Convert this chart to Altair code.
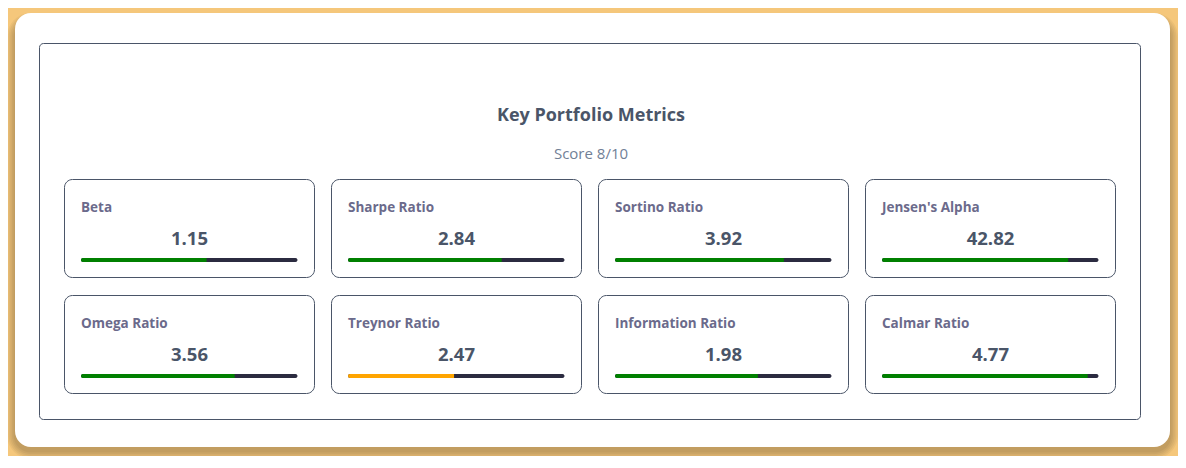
import altair as alt
import pandas as pd

# ---- data ----
metric_names = ["Beta", "Sharpe Ratio", "Sortino Ratio", "Jensen's Alpha",
                "Omega Ratio", "Treynor Ratio", "Information Ratio", "Calmar Ratio"]
metric_values = ["1.15", "2.84", "3.92", "42.82", "3.56", "2.47", "1.98", "4.77"]
bar_percent = [58, 71, 78, 86, 71, 49, 66, 95]
bar_status = ["good", "good", "good", "good", "good", "warn", "good", "good"]
chart_title = "Key Portfolio Metrics"
chart_subtitle = "Score 8/10"

# ---- layout / style ----
W, H = 1170, 448
BG = "#F5C77B"
SLATE = "#4a5568"
LABEL = "#6b6a8b"
SUB = "#718096"
TRACK = "#2b2b40"
FONT = "Open Sans"

CARD_X0, CARD_Y0, CARD_W, CARD_H, PITCH_X, PITCH_Y = 56.5, 171.5, 250, 98, 267, 116

rows = []
for i, (n, v, p, s) in enumerate(zip(metric_names, metric_values, bar_percent, bar_status)):
    c, r = i % 4, i // 4
    x0 = CARD_X0 + c * PITCH_X
    y0 = CARD_Y0 + r * PITCH_Y
    rows.append(dict(name=n, value=v, pct=p, status=s,
                     cx0=x0, cx1=x0 + CARD_W, cy0=y0, cy1=y0 + CARD_H,
                     lx=x0 + 16.5, ly=y0 + 28.5,
                     vx=x0 + CARD_W / 2, vy=y0 + 59.5,
                     bx0=x0 + 16.5, bx1=x0 + 16.5 + 216.5,
                     by0=y0 + 78.5, by1=y0 + 82.5))
cards = pd.DataFrame(rows)

xs = alt.Scale(domain=[0, W], range=[0, W], nice=False, zero=False)
ys = alt.Scale(domain=[0, H], range=[0, H], nice=False, zero=False)


def box(x0, x1, y0, y1):
    return pd.DataFrame([dict(x0=x0, x1=x1, y0=y0, y1=y1)])


def rect_layer(df, **mk):
    return alt.Chart(df).mark_rect(**mk).encode(
        x=alt.X("x0:Q", scale=xs, axis=None), x2="x1:Q",
        y=alt.Y("y0:Q", scale=ys, axis=None), y2="y1:Q")


layers = []
# drop shadow of the white panel (mostly below)
for k in range(1, 6):
    e = k * 1.6
    layers.append(rect_layer(box(7 - e, 1162 + e, 5 + 8 - e, 439 + 4 + e),
                             color="black", opacity=0.045, cornerRadius=16 + e))
# white panel
layers.append(rect_layer(box(7, 1162, 5, 439), color="white", cornerRadius=16))
# inner bordered frame
layers.append(rect_layer(box(31.5, 1132.5, 35.5, 411.5), fill="white", stroke=SLATE,
                         strokeWidth=1, cornerRadius=4))

title_df = pd.DataFrame([dict(x=583, y=108, t=chart_title, kind="title"),
                         dict(x=583, y=146, t=chart_subtitle, kind="sub")])
layers.append(alt.Chart(title_df[title_df.kind == "title"]).mark_text(
    font=FONT, fontSize=18, fontWeight="bold", color=SLATE, baseline="middle", align="center"
).encode(x=alt.X("x:Q", scale=xs, axis=None), y=alt.Y("y:Q", scale=ys, axis=None), text="t:N"))
layers.append(alt.Chart(title_df[title_df.kind == "sub"]).mark_text(
    font=FONT, fontSize=15, color=SUB, baseline="middle", align="center"
).encode(x=alt.X("x:Q", scale=xs, axis=None), y=alt.Y("y:Q", scale=ys, axis=None), text="t:N"))

base = alt.Chart(cards)
# metric cards
layers.append(base.mark_rect(fill="white", stroke=SLATE, strokeWidth=1, cornerRadius=8).encode(
    x=alt.X("cx0:Q", scale=xs, axis=None), x2="cx1:Q",
    y=alt.Y("cy0:Q", scale=ys, axis=None), y2="cy1:Q"))
# labels
layers.append(base.mark_text(font=FONT, fontSize=13.5, fontWeight="bold", color=LABEL,
                             align="left", baseline="middle").encode(
    x=alt.X("lx:Q", scale=xs, axis=None), y=alt.Y("ly:Q", scale=ys, axis=None), text="name:N"))
# values
layers.append(base.mark_text(font=FONT, fontSize=18.5, fontWeight="bold", color=SLATE,
                             align="center", baseline="middle").encode(
    x=alt.X("vx:Q", scale=xs, axis=None), y=alt.Y("vy:Q", scale=ys, axis=None), text="value:N"))
# bar track
layers.append(base.mark_rect(color=TRACK, cornerRadius=2).encode(
    x=alt.X("bx0:Q", scale=xs, axis=None), x2="bx1:Q",
    y=alt.Y("by0:Q", scale=ys, axis=None), y2="by1:Q"))
# bar fill
layers.append(base.transform_calculate(
    fx="datum.bx0 + datum.pct / 100 * (datum.bx1 - datum.bx0)"
).mark_rect(cornerRadiusTopLeft=2, cornerRadiusBottomLeft=2).encode(
    x=alt.X("bx0:Q", scale=xs, axis=None), x2="fx:Q",
    y=alt.Y("by0:Q", scale=ys, axis=None), y2="by1:Q",
    color=alt.Color("status:N", scale=alt.Scale(domain=["good", "warn"],
                                                range=["#008000", "#FFA500"]), legend=None)))

chart = alt.layer(*layers).properties(
    width=W, height=H, padding=0, autosize=alt.AutoSizeParams(type="none"),
    background=BG
).configure_view(stroke=None)

chart.save("out.html", embed_options={"renderer": "svg", "actions": False})
